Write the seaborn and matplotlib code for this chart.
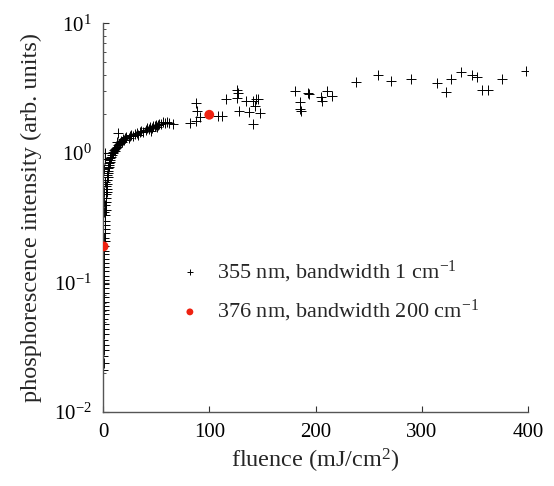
import numpy as np
import pandas as pd
import matplotlib
matplotlib.use("Agg")
import matplotlib.pyplot as plt
import seaborn as sns
from matplotlib.ticker import LogLocator, FixedLocator

# 355 nm, bandwidth 1 cm^-1 : fluence (mJ/cm2) and phosphorescence intensity
fluence_355 = [
    # dense column at very low fluence
    0.4, 0.5, 0.3, 0.6, 0.5, 0.4, 0.7, 0.5, 0.6, 0.4, 0.5, 0.8, 0.6, 0.5, 0.7,
    0.6, 0.9, 0.8, 0.7, 1.0, 0.9, 0.8, 1.1, 1.0, 1.2, 1.1, 1.3, 1.4, 1.2, 1.5,
    1.6, 1.8, 1.0, 1.2, 0.8, 1.5, 1.3, 1.8, 2.2,
    # steep rise
    2.0, 2.2, 2.5, 2.3, 2.8, 3.0, 2.6, 3.3, 3.5, 3.1, 3.8, 4.0, 4.3, 3.6, 4.6,
    5.0, 4.8, 5.5, 6.0, 5.2, 6.5, 7.0, 6.3, 7.5, 8.0, 8.5, 9.0, 9.5, 10, 11,
    12, 11.5, 13, 14, 15, 13.5, 16, 17, 18, 19, 20, 21, 22, 24, 25, 26, 28,
    30, 32, 33, 35, 36, 38, 40, 41, 43, 44, 46, 47, 49, 50, 52, 53, 55, 56,
    58, 60, 62, 66, 14, 45, 51,
    # sparse high fluence points
    82, 87.5, 87.5, 88, 91, 108.5, 111.6, 116, 126, 127, 126, 128, 135, 137,
    141.5, 144, 146, 141, 148, 143,
    181, 185, 185.5, 186, 193, 194, 205, 206, 210.5, 216, 238, 258.5, 271,
    289.6, 314, 323, 327.5, 336.6, 347, 352, 357, 362, 376, 398,
]
intensity_355 = [
    0.021, 0.024, 0.027, 0.030, 0.033, 0.036, 0.040, 0.044, 0.048, 0.052,
    0.057, 0.061, 0.066, 0.071, 0.077, 0.083, 0.090, 0.097, 0.105, 0.113,
    0.122, 0.132, 0.142, 0.153, 0.165, 0.175, 0.19, 0.21, 0.22, 0.24,
    0.26, 0.28, 0.35, 0.42, 0.50, 0.60, 0.75, 0.90, 1.0,
    0.30, 0.33, 0.36, 0.40, 0.42, 0.45, 0.48, 0.50, 0.53, 0.56, 0.58, 0.62,
    0.65, 0.68, 0.70, 0.72, 0.76, 0.78, 0.80, 0.83, 0.85, 0.88, 0.91, 0.93,
    0.96, 0.99, 1.02, 1.00, 1.05, 1.08, 1.10, 1.03, 1.12, 1.15, 1.18, 1.22,
    1.20, 1.24, 1.22, 1.28, 1.26, 1.30, 1.33, 1.31, 1.35, 1.38, 1.36, 1.40,
    1.43, 1.38, 1.45, 1.48, 1.46, 1.50, 1.55, 1.52, 1.58, 1.56, 1.62, 1.60,
    1.65, 1.63, 1.68, 1.66, 1.72, 1.70, 1.74, 1.69, 1.68, 1.42, 1.48, 1.58,
    1.70, 1.77, 2.43, 2.10, 1.89, 1.94, 1.92, 2.60, 3.04, 2.90, 2.64, 2.10,
    2.50, 2.06, 2.53, 2.60, 2.60, 1.68, 2.04, 2.30,
    3.0, 2.45, 2.2, 2.1, 2.9, 2.85, 2.7, 2.5, 3.0, 2.75, 3.5, 3.97, 3.6,
    3.7, 3.45, 2.95, 3.7, 4.2, 3.97, 3.85, 3.05, 3.05, 3.7, 4.3,
]

# 376 nm, bandwidth 200 cm^-1
fluence_376 = [0.5, 100]
intensity_376 = [0.19, 1.97]

label_355 = "355 nm, bandwidth 1 cm$^{-1}$"
label_376 = "376 nm, bandwidth 200 cm$^{-1}$"

df355 = pd.DataFrame({"fluence": fluence_355, "intensity": intensity_355})
df376 = pd.DataFrame({"fluence": fluence_376, "intensity": intensity_376})

sns.set_style("ticks")
plt.rcParams["font.family"] = ["Liberation Serif", "DejaVu Serif"]
plt.rcParams["mathtext.fontset"] = "custom"
plt.rcParams["mathtext.rm"] = "Liberation Serif"
plt.rcParams["mathtext.it"] = "Liberation Serif:italic"

fig = plt.figure(figsize=(5.54, 4.86), dpi=100)
ax = fig.add_axes([0.186, 0.152, 0.767, 0.800])

sns.scatterplot(data=df355, x="fluence", y="intensity", marker="+", color="black",
                s=50, linewidth=0.7, ax=ax, label=label_355, zorder=2)
sns.scatterplot(data=df376, x="fluence", y="intensity", marker="o", color="#ee2211",
                s=50, edgecolor="none", ax=ax, label=label_376, zorder=3)

ax.set_yscale("log")
ax.set_xlim(0, 400)
ax.set_ylim(0.01, 10)
ax.xaxis.set_major_locator(FixedLocator([0, 100, 200, 300, 400]))
ax.yaxis.set_major_locator(LogLocator(base=10, numticks=10))
ax.yaxis.set_minor_locator(LogLocator(base=10, subs=np.arange(2, 10), numticks=10))
ax.tick_params(direction="in", labelsize=15, length=4, width=0.8, pad=8, colors="#333333",
               labelcolor="black")
ax.tick_params(which="minor", direction="in", length=2.5, width=0.6, colors="#333333")

sns.despine(ax=ax)
for side in ["left", "bottom"]:
    ax.spines[side].set_color("#555555")
    ax.spines[side].set_linewidth(1.0)

ax.set_xlabel("fluence (mJ/cm$^2$)", fontsize=17.5, labelpad=3)
ax.set_ylabel("phosphorescence intensity (arb. units)", fontsize=17.5, labelpad=9)

ax.legend(loc="center left", bbox_to_anchor=(0.105, 0.31), frameon=False, fontsize=16,
          handletextpad=0.2, labelspacing=0.6, markerscale=0.7)

fig.savefig("out.png", dpi=100)
